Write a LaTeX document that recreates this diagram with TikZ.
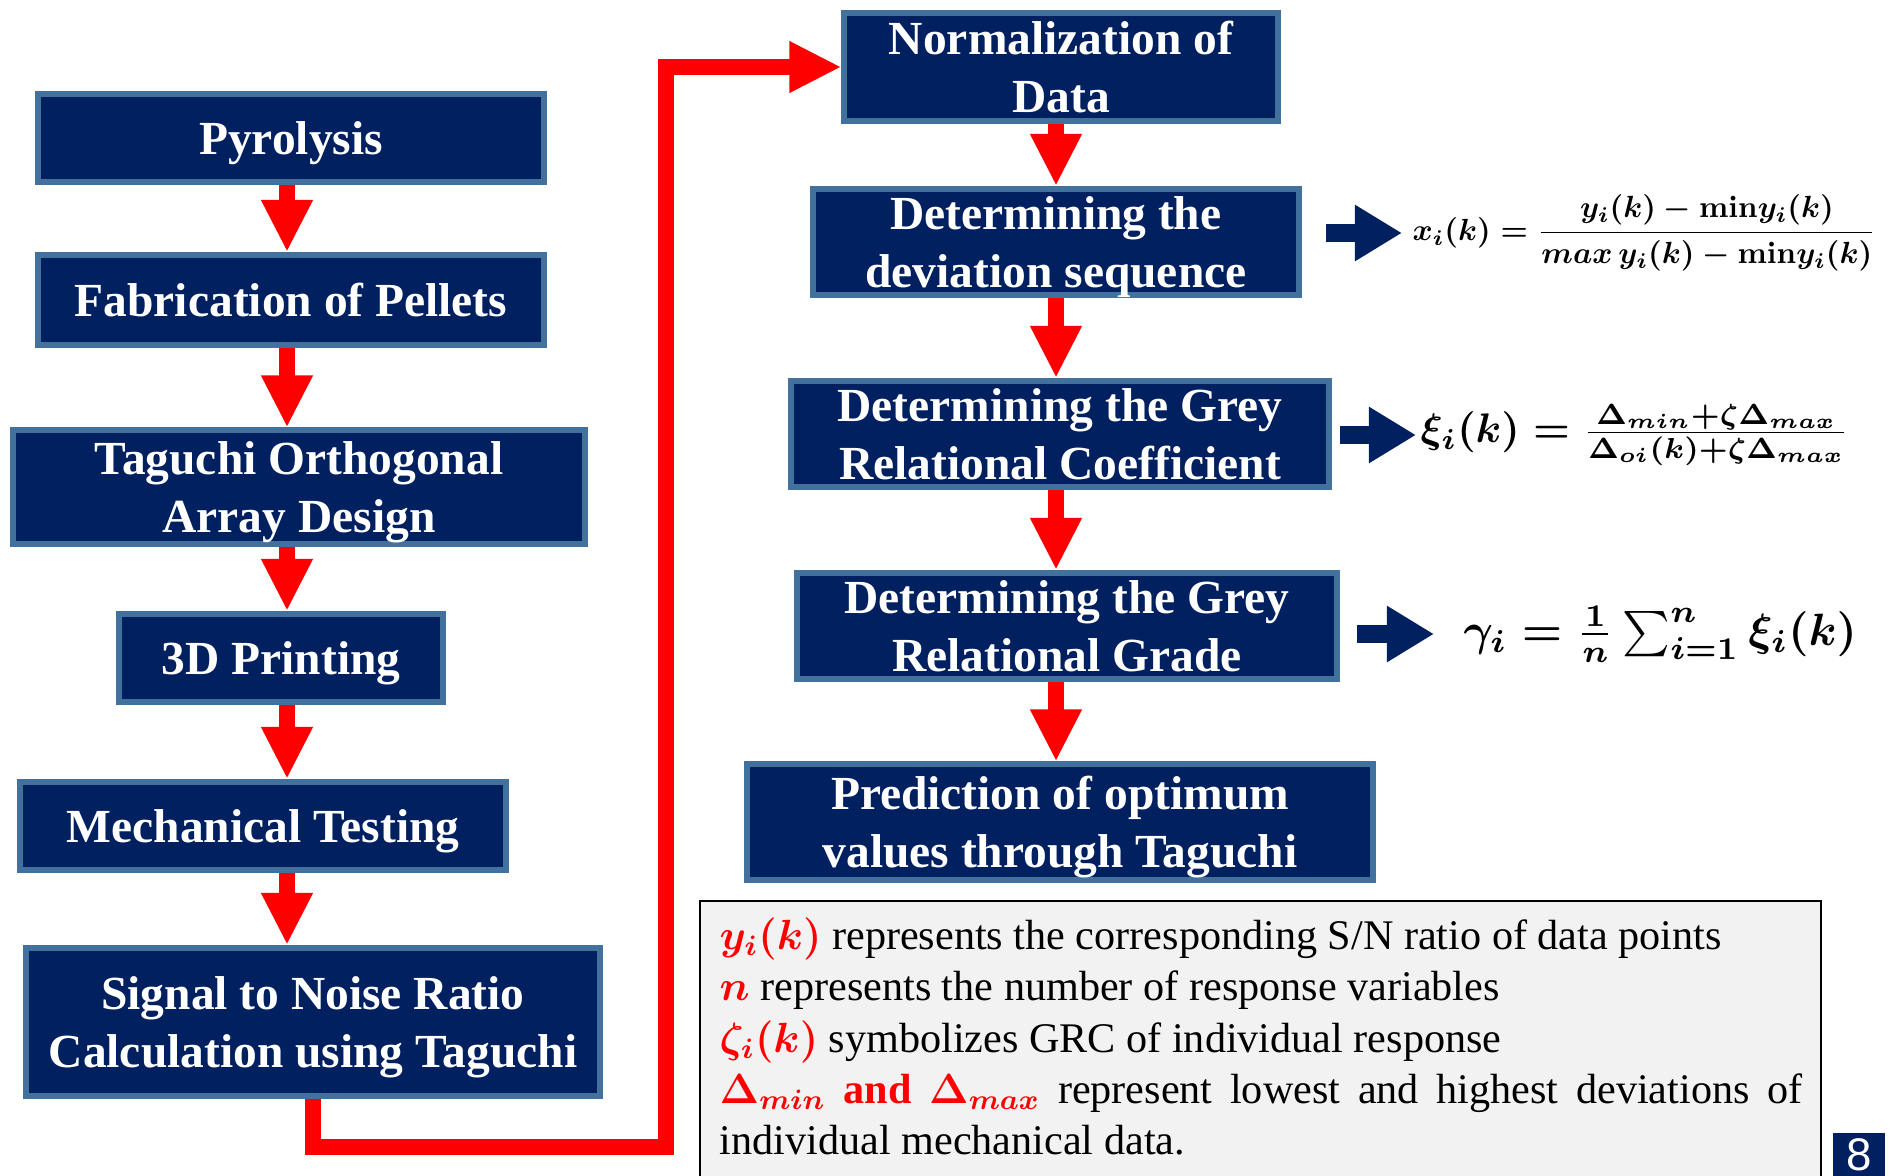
\documentclass[tikz,border=0pt]{standalone}
\usepackage{amsmath}
\usepackage{graphicx}
\usepackage{fontspec}
\setmainfont{Liberation Serif}
\newfontfamily\slidefont{Liberation Sans}
\usepackage{xcolor}
\usetikzlibrary{arrows.meta}
\definecolor{boxnavy}{HTML}{002060}
\definecolor{boxedge}{HTML}{41719C}
\definecolor{notefill}{HTML}{F2F2F2}
\newcommand{\nohyph}{\hyphenpenalty=10000\exhyphenpenalty=10000\relax}

\begin{document}
\begin{tikzpicture}[
    x=0.01cm,
    y=-0.01cm,
    stage/.style={
		rectangle,
		draw=boxedge,
		line width=1.7pt,
		fill=boxnavy,
		text=white,
		align=center,
		inner sep=0pt,
		text depth=0pt,
		font=\fontsize{13.5}{16.4}\selectfont\bfseries
	},
	flow/.style={
		draw=red,
		line width=4.5pt,
		-{Triangle[length=0.52cm, width=0.48cm]}
	},
	feed/.style={
		draw=boxnavy,
		line width=5pt,
		-{Triangle[length=0.47cm, width=0.53cm]}
	},
	formula/.style={
		anchor=west,
		inner sep=0pt,
		font=\boldmath
	}
  ]
 \clip (0,0) rectangle (1894,1175);

% // left column
 \node [stage, minimum width=5.05cm, minimum height=0.88cm] (pyro) at (291,138) {Pyrolysis};
 \node [stage, minimum width=5.05cm, minimum height=0.90cm] (pellet) at (291,300) {Fabrication of Pellets};
 \node [stage, minimum width=5.72cm, minimum height=1.13cm] (ortho) at (299,487) {Taguchi Orthogonal\\Array Design};
 \node [stage, minimum width=3.23cm, minimum height=0.88cm] (print) at (281,658) {3D Printing};
 \node [stage, minimum width=4.85cm, minimum height=0.88cm] (mech) at (263,826) {Mechanical Testing};
 \node [stage, minimum width=5.73cm, minimum height=1.48cm] (snr) at (313,1022) {Signal to Noise Ratio\\Calculation using Taguchi};

 \coordinate (lspine) at (287,0);
 \draw [flow] (pyro.south -| lspine) -- (pellet.north -| lspine);
 \draw [flow] (pellet.south -| lspine) -- (ortho.north -| lspine);
 \draw [flow] (ortho.south -| lspine) -- (print.north -| lspine);
 \draw [flow] (print.south -| lspine) -- (mech.north -| lspine);
 \draw [flow] (mech.south -| lspine) -- (snr.north -| lspine);

% // right column
 \node [stage, minimum width=4.33cm, minimum height=1.07cm] (norm) at (1061,67) {Normalization of\\Data};
 \node [stage, minimum width=4.85cm, minimum height=1.06cm] (dev) at (1056,242) {Determining the\\deviation sequence};
 \node [stage, minimum width=5.38cm, minimum height=1.06cm] (grc) at (1060,434) {Determining the Grey\\Relational Coefficient};
 \node [stage, minimum width=5.39cm, minimum height=1.06cm] (grg) at (1067,626) {Determining the Grey\\Relational Grade};
 \node [stage, minimum width=6.25cm, minimum height=1.15cm] (pred) at (1060,822) {Prediction of optimum\\values through Taguchi};

 \coordinate (rspine) at (1056,0);
 \draw [flow] (norm.south -| rspine) -- (dev.north -| rspine);
 \draw [flow] (dev.south -| rspine) -- (grc.north -| rspine);
 \draw [flow] (grc.south -| rspine) -- (grg.north -| rspine);
 \draw [flow] (grg.south -| rspine) -- (pred.north -| rspine);

% // the loop from the left column to the right one
 \coordinate (turn) at (666,1147);
 \draw [flow, line width=4.3pt] (snr.south) |- (turn) |- (norm.west);

% // formulas
 \node [formula] (xeq) at (1412,233)
 {\resizebox{4.63cm}{!}{$x_i(k) = \dfrac{y_i(k) - \mathbf{min}y_i(k)}{max\, y_i(k) - \mathbf{min}y_i(k)}$}};
 \node [formula] (xieq) at (1420,435)
 {\resizebox{4.28cm}{!}{$\xi_i(k) = \frac{\Delta_{min}+\zeta\Delta_{max}}{\Delta_{oi}(k)+\zeta\Delta_{max}}$}};
 \node [formula] (gameq) at (1463,634)
 {\resizebox{3.93cm}{!}{$\gamma_i = \frac{1}{n}\sum_{i=1}^{n}\xi_i(k)$}};

 \draw [feed] ([xshift=0.24cm]dev.east |- xeq.west) -- ([xshift=-0.1cm]xeq.west);
 \draw [feed] ([xshift=0.08cm]grc.east |- xieq.west) -- ([xshift=-0.04cm]xieq.west);
 \draw [feed] ([xshift=0.17cm]grg.east |- gameq.west) -- ([xshift=-0.29cm]gameq.west);

% // notes
 \node [rectangle, draw=black, line width=0.7pt, fill=notefill, anchor=north west,
 minimum width=11.2cm, minimum height=3.2cm] (notebox) at (699,900) {};
 \node [anchor=north west, inner sep=0pt, text width=10.82cm, align=justify,
 font=\fontsize{12}{14.6}\selectfont\boldmath\nohyph]
 (notes) at ([xshift=0.2cm, yshift=-0.17cm]notebox.north west)
 {%
 {\color{red}$y_i(k)$} represents the corresponding S/N ratio of data points\\
 {\color{red}$n$} represents the number of response variables\\
 {\color{red}$\zeta_i(k)$} symbolizes GRC of individual response\\
 {\color{red}$\Delta_{min}$ \textbf{and} $\Delta_{max}$} represent lowest and highest deviations of individual mechanical data.
 };

% // slide number
 \node [fill=boxnavy, text=white, minimum width=0.52cm, minimum height=0.44cm, inner sep=0pt,
 font=\slidefont\fontsize{13}{15}\selectfont, anchor=north west] (page) at (1832,1132) {8};

\end{tikzpicture}
\end{document}
